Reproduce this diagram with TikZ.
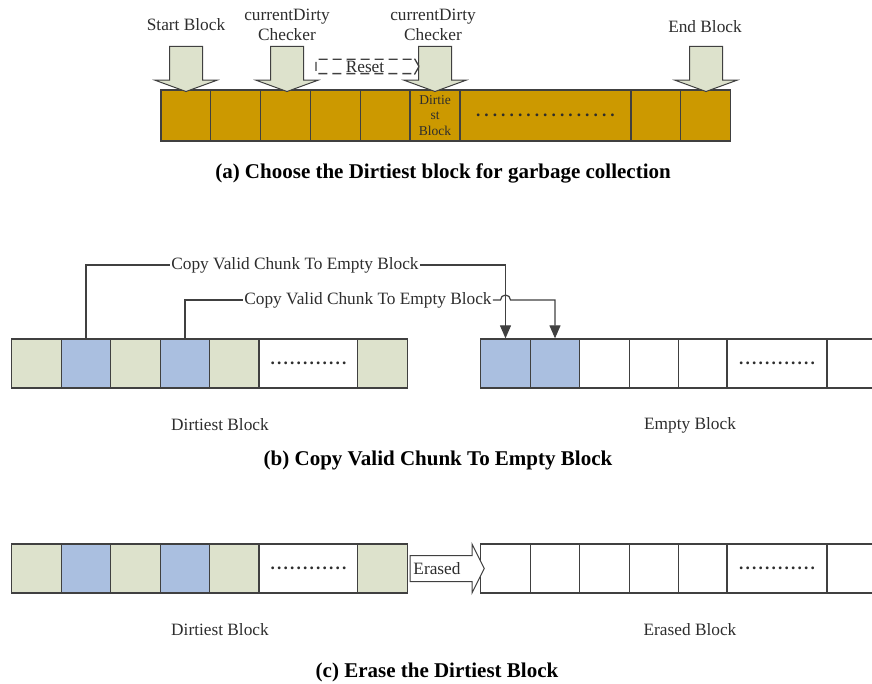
\documentclass[tikz,border=0pt]{standalone}
\usepackage{fontspec}
\setmainfont{Liberation Serif}
\usetikzlibrary{shapes.arrows,arrows.meta}
\definecolor{gold}{RGB}{204,153,0}
\definecolor{sage}{RGB}{221,226,204}
\definecolor{chunk}{RGB}{170,191,224}
\definecolor{edge}{RGB}{64,64,64}
\definecolor{ink}{RGB}{45,45,45}
\newcommand{\dotrun}[2]{\hbox to #1{\leaders\hbox to #2{\hss.\hss}\hfill}}
\tikzset{
    cellbase/.style={ % kiểu ô cơ sở
        draw=edge,
        line width=1.3pt,
        shape=rectangle,
        inner sep=0pt,
        minimum height=49pt
    },
    cell_a/.style={ % ô của hàng (a)
        cellbase,
        fill=gold,
        minimum width=50pt,
        minimum height=51pt
    },
    cell_g/.style={ % ô của hàng (b), (c)
        cellbase,
        fill=sage,
        minimum width=49.5pt
    },
    pointer/.style={ % mũi tên khối chỉ xuống
        single arrow,
        draw=edge,
        fill=sage,
        line width=1pt,
        shape border rotate=270,
        inner sep=16pt,
        minimum height=45pt,
        minimum width=61pt,
        single arrow head extend=14.5pt,
        single arrow tip angle=140
    },
    caption/.style={font=\fontsize{21}{24}\selectfont\bfseries, text=black},
    link/.style={draw=edge, line width=1.2pt}
}

\begin{document}
\begin{tikzpicture}[x=1pt, y=-1pt, font=\fontsize{17.3}{20}\selectfont, text=ink]
        \useasboundingbox (0,0) rectangle (872,684);

        % (a)
        \foreach \i in {1,...,5}
            \node [cell_a] (a\i) at ({186+49.8*(\i-1)},115.5) {};
        \node [cell_a, font=\fontsize{13.5}{15.5}\selectfont, align=center] (a6) at (435,115.5) {Dirtie\\st\\Block};
        \node [cell_a, minimum width=171pt] (a7) at (545.5,115.5) {\bfseries\dotrun{143pt}{8.4pt}};
        \node [cell_a] (a8) at (656,115.5) {};
        \node [cell_a] (a9) at (705.5,115.5) {};

        \node [pointer] (p1) at (186,66) {};
        \node [pointer] (p2) at (287,66) {};
        \node [pointer] (p3) at (435,66) {};
        \node [pointer] (p4) at (706,66) {};
        \node (t1) at (186,25) {Start Block};
        \node [align=center] (t2) at (287,25) {currentDirty\\Checker};
        \node [align=center] (t3) at (433,25) {currentDirty\\Checker};
        \node (t4) at (705,27) {End Block};

        \node [single arrow, draw=edge, dash pattern=on 9pt off 5pt, line width=1.3pt, inner sep=0pt,
               minimum height=103pt, minimum width=16pt, inner ysep=6.5pt,
               single arrow head extend=1.5pt, single arrow tip angle=120] (reset) at (365.5,66.5) {};
        \node at (365,67) {Reset};

        \node [caption] (capa) at (443,173) {(a) Choose the Dirtiest block for garbage collection};

        % (b)
        \foreach \i/\f in {1/sage,2/chunk,3/sage,4/chunk,5/sage}
            \node [cell_g, fill=\f] (b\i) at ({36.5+49.5*(\i-1)},363.5) {};
        \node [cell_g, fill=white, minimum width=99pt] (b6) at (308.5,363.5) {\bfseries\dotrun{78pt}{6.5pt}};
        \node [cell_g] (b7) at (382.5,363.5) {};

        \foreach \i/\f in {1/chunk,2/chunk,3/white,4/white,5/white}
            \node [cell_g, fill=\f] (r\i) at ({505.5+49.5*(\i-1)},363.5) {};
        \node [cell_g, fill=white, minimum width=100pt] (r6) at (777,363.5) {\bfseries\dotrun{78pt}{6.5pt}};
        \node [cell_g, fill=white, minimum width=55pt] (r7) at (854.5,363.5) {};

        \node [inner sep=1pt] (lab1) at (295,265) {Copy Valid Chunk To Empty Block};
        \node [inner sep=1pt] (lab2) at (368,300) {Copy Valid Chunk To Empty Block};
        \draw [link] (b2.north) |- (lab1.west);
        \draw [link, -{Triangle[length=13pt,width=11pt]}] (lab1.east) -| (r1.north);
        \draw [link] (b4.north) |- (lab2.west);
        \draw [link, -{Triangle[length=13pt,width=11pt]}] (lab2.east) -- ([xshift=-5pt]r1.north |- lab2.east)
            arc [start angle=180, end angle=0, radius=5pt] -| (r2.north);

        \node (n1) at (220,425) {Dirtiest Block};
        \node (n2) at (690,425) {Empty Block};
        \node [caption] (capb) at (438,460) {(b) Copy Valid Chunk To Empty Block};

        % (c)
        \foreach \i/\f in {1/sage,2/chunk,3/sage,4/chunk,5/sage}
            \node [cell_g, fill=\f] (c\i) at ({36.5+49.5*(\i-1)},568.5) {};
        \node [cell_g, fill=white, minimum width=99pt] (c6) at (308.5,568.5) {\bfseries\dotrun{78pt}{6.5pt}};
        \node [cell_g] (c7) at (382.5,568.5) {};

        \foreach \i in {1,...,5}
            \node [cell_g, fill=white] (e\i) at ({505.5+49.5*(\i-1)},568.5) {};
        \node [cell_g, fill=white, minimum width=100pt] (e6) at (777,568.5) {\bfseries\dotrun{78pt}{6.5pt}};
        \node [cell_g, fill=white, minimum width=55pt] (e7) at (854.5,568.5) {};

        \node [single arrow, draw=edge, fill=white, line width=1pt, inner sep=0pt,
               minimum height=74pt, minimum width=48pt, inner ysep=12.5pt,
               single arrow head extend=11.5pt, single arrow tip angle=127] (erase) at (444,568.5) {};
        \node at (437,569) {Erased};

        \node (n3) at (220,630) {Dirtiest Block};
        \node (n4) at (690,630) {Erased Block};
        \node [caption] (capc) at (437,672) {(c) Erase the Dirtiest Block};

\end{tikzpicture}
\end{document}
